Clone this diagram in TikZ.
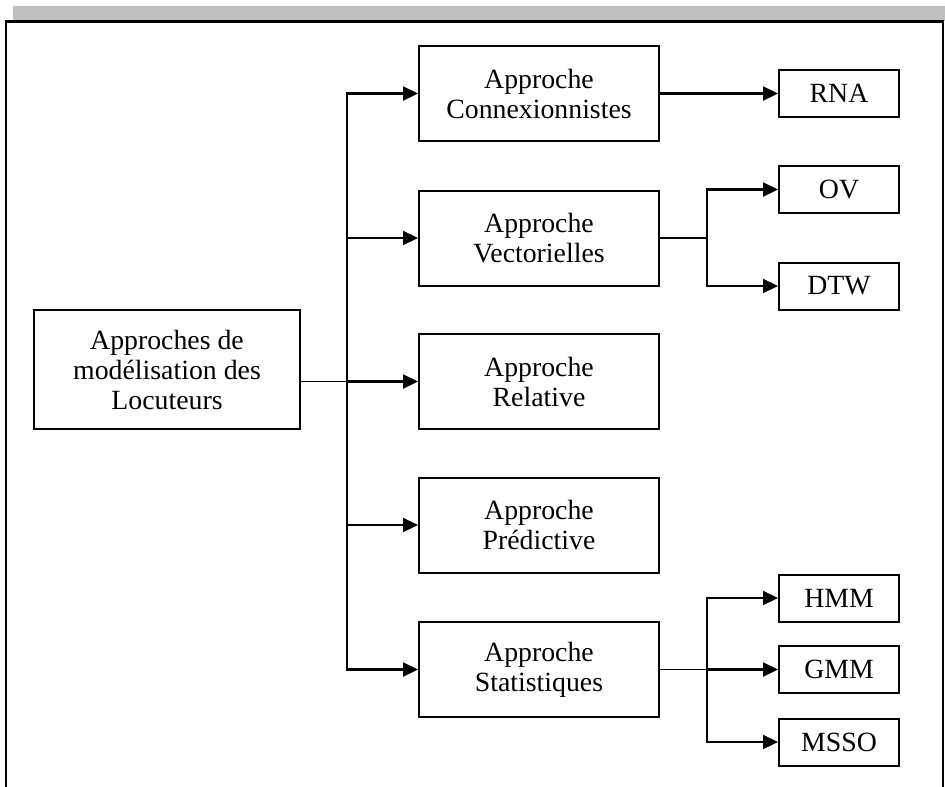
\documentclass[tikz,border=0pt]{standalone}
\usepackage{fontspec}
\setmainfont{Liberation Serif}
\usetikzlibrary{arrows.meta}
\definecolor{barfill}{RGB}{192,192,192}
\begin{document}
\begin{tikzpicture}[x=1pt,y=-1pt,
  box/.style={draw, line width=2pt, align=center, inner sep=0pt,
    font=\fontsize{27.8}{30}\selectfont},
  approach/.style={box, minimum width=240pt, minimum height=95pt},
  leaf/.style={box, minimum width=120pt, minimum height=47pt},
  feed/.style={line width=2.2pt, -{Triangle[length=15pt,width=14pt]}},
  stub/.style={line width=1.4pt},
  frameline/.style={line width=2.2pt}]
\useasboundingbox (0,0) rectangle (945,787);

% header band and page frame
\fill[barfill] (13,6) rectangle (945,21);
\draw[frameline] (6,787) -- (6,21.5) -- (943,21.5) -- (943,787);

% boxes
\node[box, minimum width=266pt, minimum height=119pt] (root) at (167,369.5)
  {Approches de\\modélisation des\\Locuteurs};
\node[approach] (conn) at (539,93.5) {Approche\\Connexionnistes};
\node[approach] (vect) at (539,238) {Approche\\Vectorielles};
\node[approach] (rel)  at (539,381.5) {Approche\\Relative};
\node[approach] (pred) at (539,525) {Approche\\Prédictive};
\node[approach] (stat) at (539,669.5) {Approche\\Statistiques};

\node[leaf] (rna)  at (839,93.5) {RNA};
\node[leaf] (ov)   at (839,189.5) {OV};
\node[leaf] (dtw)  at (839,286) {DTW};
\node[leaf] (hmm)  at (839,598) {HMM};
\node[leaf] (gmm)  at (839,669.5) {GMM};
\node[leaf] (msso) at (839,742) {MSSO};

% branching columns
\coordinate (trunk) at (347,0);
\coordinate (fork) at (707,0);

% main trunk
\draw[stub] (root.east |- rel.west) -- (trunk |- rel.west);
\draw[feed] (trunk |- rel.west) -- (rel.west);
\draw[feed] (trunk |- rel.west) |- (conn.west);
\draw[feed] (trunk |- rel.west) |- (stat.west);
\draw[feed] (trunk |- vect.west) -- (vect.west);
\draw[feed] (trunk |- pred.west) -- (pred.west);

% connexionist branch
\draw[feed] (conn.east) -- (rna.west);

% vector branch
\draw[stub] (vect.east) -- (fork |- vect.east);
\draw[feed] (fork |- vect.east) |- (ov.west);
\draw[feed] (fork |- vect.east) |- (dtw.west);

% statistical branch
\draw[stub] (stat.east) -- (fork |- stat.east);
\draw[feed] (fork |- stat.east) -- (gmm.west);
\draw[feed] (fork |- stat.east) |- (hmm.west);
\draw[feed] (fork |- stat.east) |- (msso.west);
\end{tikzpicture}
\end{document}
